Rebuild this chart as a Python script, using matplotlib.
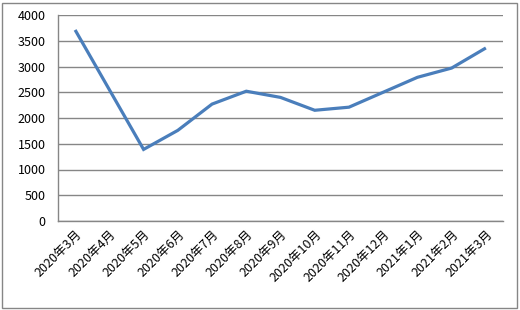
import matplotlib.pyplot as plt
from matplotlib.patches import Rectangle

plt.rcParams['font.family'] = ['Noto Sans CJK SC', 'DejaVu Sans']

months = ['2020年3月', '2020年4月', '2020年5月', '2020年6月', '2020年7月',
          '2020年8月', '2020年9月', '2020年10月', '2020年11月', '2020年12月',
          '2021年1月', '2021年2月', '2021年3月']
values = [3710, 2550, 1390, 1760, 2270, 2520, 2400, 2150, 2210, 2500,
          2790, 2970, 3360]
yticks = [0, 500, 1000, 1500, 2000, 2500, 3000, 3500, 4000]

fig = plt.figure(figsize=(5.2, 3.1), dpi=100)
ax = fig.add_axes([58 / 520, 1 - 221 / 310, 445 / 520, 206 / 310])

x = range(len(months))
ax.plot(x, values, color='#4A7EBB', linewidth=2.3, solid_capstyle='butt',
        solid_joinstyle='miter', zorder=3)

ax.set_xlim(-0.5, len(months) - 0.5)
ax.set_ylim(0, 4000)
ax.set_yticks(yticks)
ax.set_xticks(list(x))
ax.set_xticklabels(months, rotation=45, ha='right', va='top',
                   rotation_mode='anchor', fontsize=9.2)
ax.tick_params(axis='both', length=0, labelsize=9, colors='black')
ax.tick_params(axis='y', pad=9)
ax.tick_params(axis='x', pad=5)

ax.grid(axis='y', color='#868686', linewidth=1)
ax.set_axisbelow(True)
for side in ['top', 'right']:
    ax.spines[side].set_visible(False)
for side in ['left', 'bottom']:
    ax.spines[side].set_color('#868686')
    ax.spines[side].set_linewidth(1)

# outer chart border
fig.patches.append(Rectangle((2 / 520, 2 / 310), 515 / 520, 305 / 310,
                             transform=fig.transFigure, fill=False,
                             edgecolor='#868686', linewidth=1))

fig.savefig('out.png', dpi=100)
